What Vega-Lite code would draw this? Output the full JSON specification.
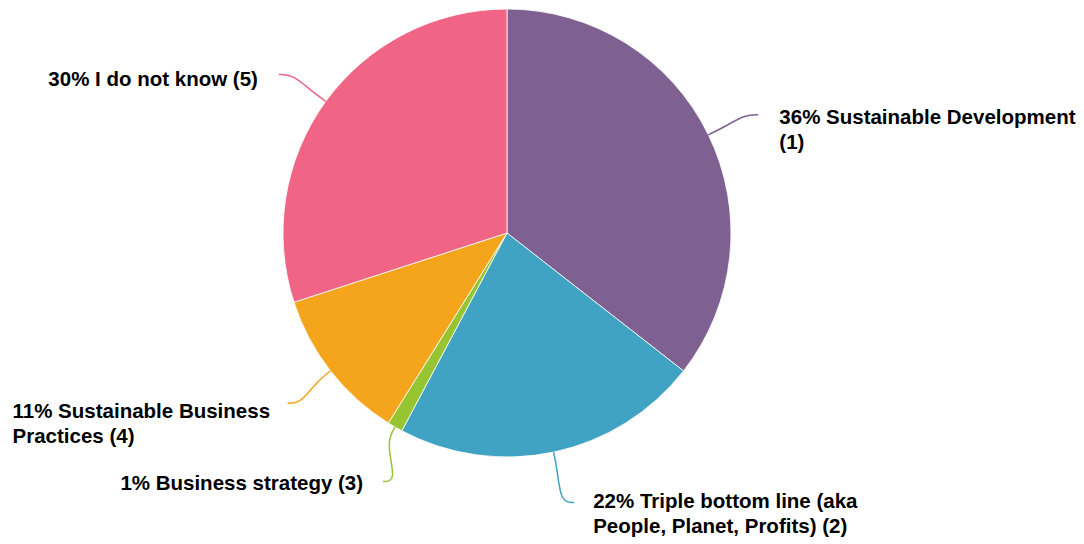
{
  "$schema": "https://vega.github.io/schema/vega-lite/v6.json",
  "width": 1014,
  "height": 466,
  "autosize": "none",
  "padding": {"left": 0, "top": 0, "right": 70, "bottom": 78},
  "background": "white",
  "config": {"view": {"stroke": null}},
  "data": {
    "values": [
      {"code": 1, "value": 32, "label": "36% Sustainable Development\n(1)"},
      {"code": 2, "value": 20, "label": "22% Triple bottom line (aka\nPeople, Planet, Profits) (2)"},
      {"code": 3, "value": 1, "label": "1% Business strategy (3)"},
      {"code": 4, "value": 10, "label": "11% Sustainable Business\nPractices (4)"},
      {"code": 5, "value": 27, "label": "30% I do not know (5)"}
    ]
  },
  "transform": [
    {"joinaggregate": [{"op": "sum", "field": "value", "as": "total"}]},
    {"window": [{"op": "sum", "field": "value", "as": "cum"}], "sort": [{"field": "code", "order": "ascending"}], "frame": [null, 0]},
    {"calculate": "2*PI*(datum.cum - datum.value/2)/datum.total", "as": "a0"},
    {"calculate": "datum.a0 + PI/180*(datum.code==1 ? 0.8 : datum.code==2 ? -2 : datum.code==3 ? -3.5 : datum.code==4 ? 0.2 : -1.2)", "as": "a1"},
    {"calculate": "1.24*sin(datum.a1)", "as": "xe"},
    {"calculate": "1.24*cos(datum.a1)", "as": "ye"}
  ],
  "layer": [
    {
      "mark": {"type": "arc", "outerRadius": 224, "stroke": "#ffffff", "strokeWidth": 0.8},
      "encoding": {
        "theta": {"field": "value", "type": "quantitative", "stack": true},
        "order": {"field": "code", "type": "quantitative", "sort": "ascending"},
        "color": {"field": "code", "type": "nominal", "scale": {"domain": [1, 2, 3, 4, 5], "range": ["#7E6190", "#40A3C3", "#97C532", "#F4A51C", "#F06486"]}, "legend": null}
      }
    },
    {
      "transform": [
        {"calculate": "[0,1,2,3]", "as": "k"},
        {"flatten": ["k"]},
        {"calculate": "datum.xe > 0 ? 1 : -1", "as": "s"},
        {"calculate": "datum.k==0 ? sin(datum.a0) : datum.k==1 ? 1.08*sin(datum.a0) : datum.k==2 ? datum.xe - datum.s*0.06 : datum.xe", "as": "px"},
        {"calculate": "datum.k==0 ? cos(datum.a0) : datum.k==1 ? 1.08*cos(datum.a0) : datum.ye", "as": "py"}
      ],
      "mark": {"type": "line", "interpolate": "basis", "strokeWidth": 1.5},
      "encoding": {
        "x": {"field": "px", "type": "quantitative", "scale": {"domain": [-2.2634, 2.2634], "nice": false, "zero": false}, "axis": null},
        "y": {"field": "py", "type": "quantitative", "scale": {"domain": [-1.0402, 1.0402], "nice": false, "zero": false}, "axis": null},
        "detail": {"field": "code", "type": "nominal"},
        "order": {"field": "k", "type": "quantitative"},
        "color": {"field": "code", "type": "nominal", "legend": null}
      }
    },
    {
      "transform": [{"filter": "datum.code==1"}],
      "mark": {"type": "text", "align": "left", "baseline": "alphabetic", "dx": 21, "dy": 9, "lineBreak": "\n", "lineHeight": 25, "font": "Liberation Sans", "fontWeight": "bold", "fontSize": 20.5, "color": "#000000"},
      "encoding": {
        "x": {"field": "xe", "type": "quantitative", "scale": {"domain": [-2.2634, 2.2634], "nice": false, "zero": false}, "axis": null},
        "y": {"field": "ye", "type": "quantitative", "scale": {"domain": [-1.0402, 1.0402], "nice": false, "zero": false}, "axis": null},
        "text": {"field": "label", "type": "nominal"}
      }
    },
    {
      "transform": [{"filter": "datum.code==2"}],
      "mark": {"type": "text", "align": "left", "baseline": "alphabetic", "dx": 19, "dy": 5, "lineBreak": "\n", "lineHeight": 25, "font": "Liberation Sans", "fontWeight": "bold", "fontSize": 20.5, "color": "#000000"},
      "encoding": {
        "x": {"field": "xe", "type": "quantitative", "scale": {"domain": [-2.2634, 2.2634], "nice": false, "zero": false}, "axis": null},
        "y": {"field": "ye", "type": "quantitative", "scale": {"domain": [-1.0402, 1.0402], "nice": false, "zero": false}, "axis": null},
        "text": {"field": "label", "type": "nominal"}
      }
    },
    {
      "transform": [{"filter": "datum.code==3"}],
      "mark": {"type": "text", "align": "right", "baseline": "alphabetic", "dx": -20, "dy": 8, "lineBreak": "\n", "lineHeight": 25, "font": "Liberation Sans", "fontWeight": "bold", "fontSize": 20.5, "color": "#000000"},
      "encoding": {
        "x": {"field": "xe", "type": "quantitative", "scale": {"domain": [-2.2634, 2.2634], "nice": false, "zero": false}, "axis": null},
        "y": {"field": "ye", "type": "quantitative", "scale": {"domain": [-1.0402, 1.0402], "nice": false, "zero": false}, "axis": null},
        "text": {"field": "label", "type": "nominal"}
      }
    },
    {
      "transform": [{"filter": "datum.code==4"}],
      "mark": {"type": "text", "align": "left", "baseline": "alphabetic", "dx": -275, "dy": 15, "lineBreak": "\n", "lineHeight": 25, "font": "Liberation Sans", "fontWeight": "bold", "fontSize": 20.5, "color": "#000000"},
      "encoding": {
        "x": {"field": "xe", "type": "quantitative", "scale": {"domain": [-2.2634, 2.2634], "nice": false, "zero": false}, "axis": null},
        "y": {"field": "ye", "type": "quantitative", "scale": {"domain": [-1.0402, 1.0402], "nice": false, "zero": false}, "axis": null},
        "text": {"field": "label", "type": "nominal"}
      }
    },
    {
      "transform": [{"filter": "datum.code==5"}],
      "mark": {"type": "text", "align": "right", "baseline": "alphabetic", "dx": -21, "dy": 12, "lineBreak": "\n", "lineHeight": 25, "font": "Liberation Sans", "fontWeight": "bold", "fontSize": 20.5, "color": "#000000"},
      "encoding": {
        "x": {"field": "xe", "type": "quantitative", "scale": {"domain": [-2.2634, 2.2634], "nice": false, "zero": false}, "axis": null},
        "y": {"field": "ye", "type": "quantitative", "scale": {"domain": [-1.0402, 1.0402], "nice": false, "zero": false}, "axis": null},
        "text": {"field": "label", "type": "nominal"}
      }
    }
  ]
}
